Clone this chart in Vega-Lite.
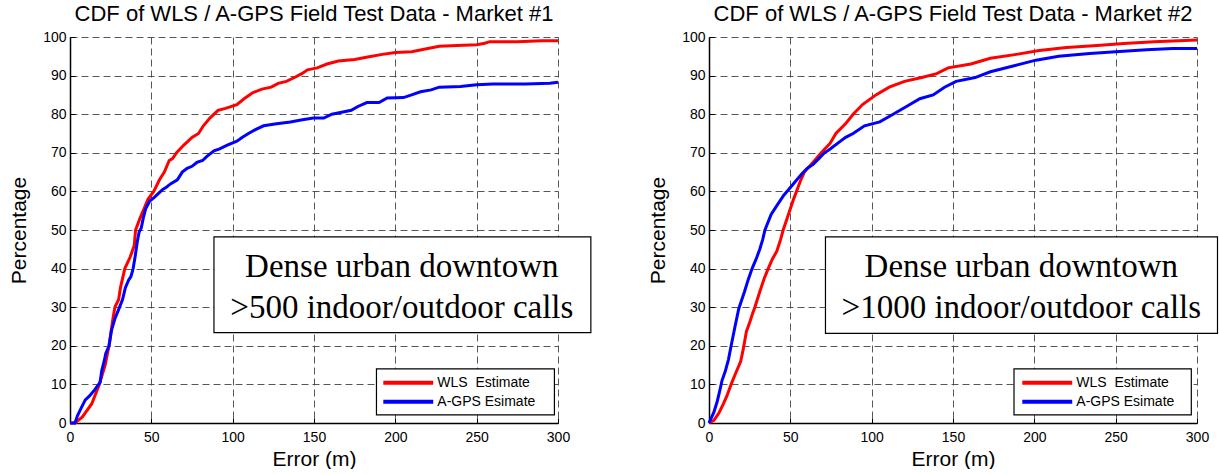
{
  "$schema": "https://vega.github.io/schema/vega-lite/v6.json",
  "background": "white",
  "padding": {"left": 8, "top": 3, "right": 0, "bottom": 0},
  "spacing": 151,
  "bounds": "flush",
  "datasets": {
    "m1": [
      {"err": 0, "pct": 0, "series": "WLS  Estimate"},
      {"err": 3, "pct": 0, "series": "WLS  Estimate"},
      {"err": 7.5, "pct": 1.5, "series": "WLS  Estimate"},
      {"err": 13.4, "pct": 5, "series": "WLS  Estimate"},
      {"err": 18, "pct": 10, "series": "WLS  Estimate"},
      {"err": 21.6, "pct": 15, "series": "WLS  Estimate"},
      {"err": 24, "pct": 20, "series": "WLS  Estimate"},
      {"err": 26.4, "pct": 27, "series": "WLS  Estimate"},
      {"err": 27.6, "pct": 30, "series": "WLS  Estimate"},
      {"err": 29.9, "pct": 32, "series": "WLS  Estimate"},
      {"err": 31, "pct": 35, "series": "WLS  Estimate"},
      {"err": 33.7, "pct": 40, "series": "WLS  Estimate"},
      {"err": 37, "pct": 43, "series": "WLS  Estimate"},
      {"err": 39.5, "pct": 46, "series": "WLS  Estimate"},
      {"err": 40.3, "pct": 50, "series": "WLS  Estimate"},
      {"err": 43, "pct": 53, "series": "WLS  Estimate"},
      {"err": 46, "pct": 56, "series": "WLS  Estimate"},
      {"err": 48, "pct": 58, "series": "WLS  Estimate"},
      {"err": 51.5, "pct": 60, "series": "WLS  Estimate"},
      {"err": 55, "pct": 63, "series": "WLS  Estimate"},
      {"err": 58, "pct": 65, "series": "WLS  Estimate"},
      {"err": 61, "pct": 68, "series": "WLS  Estimate"},
      {"err": 63, "pct": 68.5, "series": "WLS  Estimate"},
      {"err": 65.5, "pct": 70, "series": "WLS  Estimate"},
      {"err": 70, "pct": 72, "series": "WLS  Estimate"},
      {"err": 75, "pct": 74, "series": "WLS  Estimate"},
      {"err": 79, "pct": 75, "series": "WLS  Estimate"},
      {"err": 82, "pct": 77, "series": "WLS  Estimate"},
      {"err": 86, "pct": 79, "series": "WLS  Estimate"},
      {"err": 91, "pct": 81, "series": "WLS  Estimate"},
      {"err": 95.6, "pct": 81.5, "series": "WLS  Estimate"},
      {"err": 102.6, "pct": 82.5, "series": "WLS  Estimate"},
      {"err": 107, "pct": 84, "series": "WLS  Estimate"},
      {"err": 112, "pct": 85.5, "series": "WLS  Estimate"},
      {"err": 118, "pct": 86.5, "series": "WLS  Estimate"},
      {"err": 123.7, "pct": 87, "series": "WLS  Estimate"},
      {"err": 128, "pct": 88, "series": "WLS  Estimate"},
      {"err": 133, "pct": 88.5, "series": "WLS  Estimate"},
      {"err": 138, "pct": 89.5, "series": "WLS  Estimate"},
      {"err": 142.5, "pct": 90.5, "series": "WLS  Estimate"},
      {"err": 146, "pct": 91.5, "series": "WLS  Estimate"},
      {"err": 152, "pct": 92, "series": "WLS  Estimate"},
      {"err": 158, "pct": 93, "series": "WLS  Estimate"},
      {"err": 165, "pct": 93.8, "series": "WLS  Estimate"},
      {"err": 175, "pct": 94.2, "series": "WLS  Estimate"},
      {"err": 183, "pct": 94.8, "series": "WLS  Estimate"},
      {"err": 192, "pct": 95.5, "series": "WLS  Estimate"},
      {"err": 200, "pct": 96, "series": "WLS  Estimate"},
      {"err": 210, "pct": 96.2, "series": "WLS  Estimate"},
      {"err": 220, "pct": 97, "series": "WLS  Estimate"},
      {"err": 227, "pct": 97.6, "series": "WLS  Estimate"},
      {"err": 238, "pct": 97.8, "series": "WLS  Estimate"},
      {"err": 250, "pct": 98, "series": "WLS  Estimate"},
      {"err": 255, "pct": 98.4, "series": "WLS  Estimate"},
      {"err": 258, "pct": 98.8, "series": "WLS  Estimate"},
      {"err": 275, "pct": 98.8, "series": "WLS  Estimate"},
      {"err": 290, "pct": 99, "series": "WLS  Estimate"},
      {"err": 300, "pct": 99, "series": "WLS  Estimate"},
      {"err": 0, "pct": 0, "series": "A-GPS Esimate"},
      {"err": 3, "pct": 0, "series": "A-GPS Esimate"},
      {"err": 4.7, "pct": 2, "series": "A-GPS Esimate"},
      {"err": 7, "pct": 4, "series": "A-GPS Esimate"},
      {"err": 9.4, "pct": 6, "series": "A-GPS Esimate"},
      {"err": 12, "pct": 7, "series": "A-GPS Esimate"},
      {"err": 15, "pct": 8.5, "series": "A-GPS Esimate"},
      {"err": 18.5, "pct": 10.5, "series": "A-GPS Esimate"},
      {"err": 19.5, "pct": 13.5, "series": "A-GPS Esimate"},
      {"err": 21, "pct": 16, "series": "A-GPS Esimate"},
      {"err": 22, "pct": 18, "series": "A-GPS Esimate"},
      {"err": 24, "pct": 20, "series": "A-GPS Esimate"},
      {"err": 25.5, "pct": 24, "series": "A-GPS Esimate"},
      {"err": 27.6, "pct": 27, "series": "A-GPS Esimate"},
      {"err": 30, "pct": 29.5, "series": "A-GPS Esimate"},
      {"err": 32.3, "pct": 32, "series": "A-GPS Esimate"},
      {"err": 34, "pct": 35, "series": "A-GPS Esimate"},
      {"err": 36, "pct": 37, "series": "A-GPS Esimate"},
      {"err": 37.5, "pct": 38, "series": "A-GPS Esimate"},
      {"err": 38.8, "pct": 40, "series": "A-GPS Esimate"},
      {"err": 40, "pct": 43, "series": "A-GPS Esimate"},
      {"err": 41.4, "pct": 47, "series": "A-GPS Esimate"},
      {"err": 42.5, "pct": 49.5, "series": "A-GPS Esimate"},
      {"err": 43.8, "pct": 50.5, "series": "A-GPS Esimate"},
      {"err": 45, "pct": 53, "series": "A-GPS Esimate"},
      {"err": 46.5, "pct": 55.5, "series": "A-GPS Esimate"},
      {"err": 49, "pct": 57.5, "series": "A-GPS Esimate"},
      {"err": 52, "pct": 58.5, "series": "A-GPS Esimate"},
      {"err": 57, "pct": 60.5, "series": "A-GPS Esimate"},
      {"err": 59, "pct": 61, "series": "A-GPS Esimate"},
      {"err": 62, "pct": 62, "series": "A-GPS Esimate"},
      {"err": 66, "pct": 63, "series": "A-GPS Esimate"},
      {"err": 69, "pct": 65, "series": "A-GPS Esimate"},
      {"err": 72, "pct": 66, "series": "A-GPS Esimate"},
      {"err": 75, "pct": 66.5, "series": "A-GPS Esimate"},
      {"err": 78, "pct": 67.5, "series": "A-GPS Esimate"},
      {"err": 81.5, "pct": 68, "series": "A-GPS Esimate"},
      {"err": 84, "pct": 69, "series": "A-GPS Esimate"},
      {"err": 88.5, "pct": 70.5, "series": "A-GPS Esimate"},
      {"err": 92, "pct": 71, "series": "A-GPS Esimate"},
      {"err": 96.7, "pct": 72, "series": "A-GPS Esimate"},
      {"err": 102.6, "pct": 73, "series": "A-GPS Esimate"},
      {"err": 106, "pct": 74, "series": "A-GPS Esimate"},
      {"err": 109.7, "pct": 75, "series": "A-GPS Esimate"},
      {"err": 114, "pct": 76, "series": "A-GPS Esimate"},
      {"err": 119, "pct": 77, "series": "A-GPS Esimate"},
      {"err": 127, "pct": 77.5, "series": "A-GPS Esimate"},
      {"err": 135.5, "pct": 78, "series": "A-GPS Esimate"},
      {"err": 142, "pct": 78.5, "series": "A-GPS Esimate"},
      {"err": 149.6, "pct": 79, "series": "A-GPS Esimate"},
      {"err": 156, "pct": 79, "series": "A-GPS Esimate"},
      {"err": 161, "pct": 80, "series": "A-GPS Esimate"},
      {"err": 167, "pct": 80.5, "series": "A-GPS Esimate"},
      {"err": 172.9, "pct": 81, "series": "A-GPS Esimate"},
      {"err": 177, "pct": 82, "series": "A-GPS Esimate"},
      {"err": 182.5, "pct": 83, "series": "A-GPS Esimate"},
      {"err": 190, "pct": 83, "series": "A-GPS Esimate"},
      {"err": 195, "pct": 84.2, "series": "A-GPS Esimate"},
      {"err": 205, "pct": 84.3, "series": "A-GPS Esimate"},
      {"err": 210, "pct": 85, "series": "A-GPS Esimate"},
      {"err": 215.5, "pct": 85.8, "series": "A-GPS Esimate"},
      {"err": 222, "pct": 86.3, "series": "A-GPS Esimate"},
      {"err": 227, "pct": 87, "series": "A-GPS Esimate"},
      {"err": 240, "pct": 87.2, "series": "A-GPS Esimate"},
      {"err": 250, "pct": 87.6, "series": "A-GPS Esimate"},
      {"err": 260, "pct": 87.8, "series": "A-GPS Esimate"},
      {"err": 280, "pct": 87.8, "series": "A-GPS Esimate"},
      {"err": 295, "pct": 88, "series": "A-GPS Esimate"},
      {"err": 300, "pct": 88.3, "series": "A-GPS Esimate"}
    ],
    "m2": [
      {"err": 0, "pct": 0, "series": "WLS  Estimate"},
      {"err": 3, "pct": 0.7, "series": "WLS  Estimate"},
      {"err": 6, "pct": 2.5, "series": "WLS  Estimate"},
      {"err": 8.9, "pct": 5, "series": "WLS  Estimate"},
      {"err": 11, "pct": 7, "series": "WLS  Estimate"},
      {"err": 13.6, "pct": 10, "series": "WLS  Estimate"},
      {"err": 16, "pct": 12.5, "series": "WLS  Estimate"},
      {"err": 19.5, "pct": 16, "series": "WLS  Estimate"},
      {"err": 21, "pct": 19, "series": "WLS  Estimate"},
      {"err": 23, "pct": 23.7, "series": "WLS  Estimate"},
      {"err": 25, "pct": 26, "series": "WLS  Estimate"},
      {"err": 26.5, "pct": 28, "series": "WLS  Estimate"},
      {"err": 28.2, "pct": 30, "series": "WLS  Estimate"},
      {"err": 31.2, "pct": 34, "series": "WLS  Estimate"},
      {"err": 34, "pct": 37.5, "series": "WLS  Estimate"},
      {"err": 36.4, "pct": 40, "series": "WLS  Estimate"},
      {"err": 39, "pct": 42.5, "series": "WLS  Estimate"},
      {"err": 41.7, "pct": 44.5, "series": "WLS  Estimate"},
      {"err": 44, "pct": 47.5, "series": "WLS  Estimate"},
      {"err": 45.6, "pct": 50, "series": "WLS  Estimate"},
      {"err": 48, "pct": 53, "series": "WLS  Estimate"},
      {"err": 50, "pct": 55.5, "series": "WLS  Estimate"},
      {"err": 52, "pct": 58, "series": "WLS  Estimate"},
      {"err": 53.8, "pct": 60, "series": "WLS  Estimate"},
      {"err": 56, "pct": 62.5, "series": "WLS  Estimate"},
      {"err": 58.6, "pct": 65, "series": "WLS  Estimate"},
      {"err": 62.8, "pct": 67, "series": "WLS  Estimate"},
      {"err": 66, "pct": 68.5, "series": "WLS  Estimate"},
      {"err": 69, "pct": 70, "series": "WLS  Estimate"},
      {"err": 74.5, "pct": 72.5, "series": "WLS  Estimate"},
      {"err": 78, "pct": 75, "series": "WLS  Estimate"},
      {"err": 83.9, "pct": 77.5, "series": "WLS  Estimate"},
      {"err": 88.6, "pct": 80, "series": "WLS  Estimate"},
      {"err": 94.4, "pct": 82.5, "series": "WLS  Estimate"},
      {"err": 102.6, "pct": 85, "series": "WLS  Estimate"},
      {"err": 110.8, "pct": 87, "series": "WLS  Estimate"},
      {"err": 120.2, "pct": 88.5, "series": "WLS  Estimate"},
      {"err": 130.8, "pct": 89.5, "series": "WLS  Estimate"},
      {"err": 140, "pct": 90.5, "series": "WLS  Estimate"},
      {"err": 147, "pct": 92, "series": "WLS  Estimate"},
      {"err": 161, "pct": 93, "series": "WLS  Estimate"},
      {"err": 173, "pct": 94.5, "series": "WLS  Estimate"},
      {"err": 189, "pct": 95.5, "series": "WLS  Estimate"},
      {"err": 203, "pct": 96.5, "series": "WLS  Estimate"},
      {"err": 219.8, "pct": 97.3, "series": "WLS  Estimate"},
      {"err": 238.6, "pct": 97.8, "series": "WLS  Estimate"},
      {"err": 255, "pct": 98.3, "series": "WLS  Estimate"},
      {"err": 273.7, "pct": 98.8, "series": "WLS  Estimate"},
      {"err": 300, "pct": 99.2, "series": "WLS  Estimate"},
      {"err": 0, "pct": 0, "series": "A-GPS Esimate"},
      {"err": 3, "pct": 2.8, "series": "A-GPS Esimate"},
      {"err": 5, "pct": 5.5, "series": "A-GPS Esimate"},
      {"err": 6.6, "pct": 8.3, "series": "A-GPS Esimate"},
      {"err": 8, "pct": 11, "series": "A-GPS Esimate"},
      {"err": 10, "pct": 13.4, "series": "A-GPS Esimate"},
      {"err": 12, "pct": 16.5, "series": "A-GPS Esimate"},
      {"err": 13.6, "pct": 20, "series": "A-GPS Esimate"},
      {"err": 16, "pct": 25, "series": "A-GPS Esimate"},
      {"err": 18.3, "pct": 29.6, "series": "A-GPS Esimate"},
      {"err": 21.8, "pct": 34, "series": "A-GPS Esimate"},
      {"err": 24, "pct": 37, "series": "A-GPS Esimate"},
      {"err": 26.5, "pct": 40, "series": "A-GPS Esimate"},
      {"err": 29, "pct": 42.5, "series": "A-GPS Esimate"},
      {"err": 31.2, "pct": 45, "series": "A-GPS Esimate"},
      {"err": 33, "pct": 47.5, "series": "A-GPS Esimate"},
      {"err": 34.4, "pct": 50, "series": "A-GPS Esimate"},
      {"err": 38.2, "pct": 54, "series": "A-GPS Esimate"},
      {"err": 42, "pct": 56.5, "series": "A-GPS Esimate"},
      {"err": 46, "pct": 59, "series": "A-GPS Esimate"},
      {"err": 49, "pct": 60.5, "series": "A-GPS Esimate"},
      {"err": 54, "pct": 63, "series": "A-GPS Esimate"},
      {"err": 57, "pct": 64.5, "series": "A-GPS Esimate"},
      {"err": 60.5, "pct": 66, "series": "A-GPS Esimate"},
      {"err": 64, "pct": 67, "series": "A-GPS Esimate"},
      {"err": 67.5, "pct": 68.5, "series": "A-GPS Esimate"},
      {"err": 71, "pct": 70, "series": "A-GPS Esimate"},
      {"err": 74.5, "pct": 71, "series": "A-GPS Esimate"},
      {"err": 79.2, "pct": 72.5, "series": "A-GPS Esimate"},
      {"err": 84, "pct": 74, "series": "A-GPS Esimate"},
      {"err": 88.6, "pct": 75, "series": "A-GPS Esimate"},
      {"err": 95.6, "pct": 77, "series": "A-GPS Esimate"},
      {"err": 105, "pct": 78, "series": "A-GPS Esimate"},
      {"err": 113.2, "pct": 80, "series": "A-GPS Esimate"},
      {"err": 121.4, "pct": 82, "series": "A-GPS Esimate"},
      {"err": 129.6, "pct": 84, "series": "A-GPS Esimate"},
      {"err": 137.8, "pct": 85, "series": "A-GPS Esimate"},
      {"err": 144.8, "pct": 87, "series": "A-GPS Esimate"},
      {"err": 151.9, "pct": 88.5, "series": "A-GPS Esimate"},
      {"err": 163.6, "pct": 89.5, "series": "A-GPS Esimate"},
      {"err": 173, "pct": 91, "series": "A-GPS Esimate"},
      {"err": 187, "pct": 92.5, "series": "A-GPS Esimate"},
      {"err": 201, "pct": 94, "series": "A-GPS Esimate"},
      {"err": 215, "pct": 95, "series": "A-GPS Esimate"},
      {"err": 234, "pct": 95.7, "series": "A-GPS Esimate"},
      {"err": 250, "pct": 96.2, "series": "A-GPS Esimate"},
      {"err": 269, "pct": 96.7, "series": "A-GPS Esimate"},
      {"err": 285, "pct": 97, "series": "A-GPS Esimate"},
      {"err": 300, "pct": 97, "series": "A-GPS Esimate"}
    ],
    "boxes": [
      {"panel": 1, "err": 88.5, "err2": 320.2, "pct": 48.2, "pct2": 23.4},
      {"panel": 2, "err": 71.6, "err2": 312.6, "pct": 48.2, "pct2": 23.2}
    ],
    "notes": [
      {"panel": 1, "err": 204, "pct": 40.3, "text": "Dense urban downtown"},
      {"panel": 1, "err": 204, "pct": 29.8, "text": ">500 indoor/outdoor calls"},
      {"panel": 2, "err": 192, "pct": 40.3, "text": "Dense urban downtown"},
      {"panel": 2, "err": 192, "pct": 29.8, "text": ">1000 indoor/outdoor calls"}
    ],
    "legendbox": [
      {"panel": 1, "err": 188.4, "err2": 297.8, "pct": 14, "pct2": 2.1},
      {"panel": 2, "err": 187.5, "err2": 296.5, "pct": 14, "pct2": 2.1}
    ],
    "legendlines": [
      {"series": "WLS  Estimate", "err": 192.6, "err2": 223.3, "pct": 10.4},
      {"series": "A-GPS Esimate", "err": 192.6, "err2": 223.3, "pct": 5.5}
    ],
    "legendlabels": [
      {"label": "WLS\u00a0\u00a0Estimate", "err": 225.8, "pct": 10.4},
      {"label": "A-GPS Esimate", "err": 225.8, "pct": 5.5}
    ]
  },
  "hconcat": [
    {
      "width": 488,
      "height": 386,
      "title": "CDF of WLS / A-GPS Field Test Data - Market #1",
      "encoding": {
        "x": {"field": "err", "type": "quantitative", "scale": {"domain": [0, 300], "nice": false}, "axis": {"title": "Error (m)", "values": [0, 50, 100, 150, 200, 250, 300]}},
        "y": {"field": "pct", "type": "quantitative", "scale": {"domain": [0, 100], "nice": false}, "axis": {"title": "Percentage", "values": [0, 10, 20, 30, 40, 50, 60, 70, 80, 90, 100]}}
      },
      "layer": [
        {
          "data": {"name": "m1"},
          "mark": {"type": "line", "strokeWidth": 3},
          "encoding": {
            "color": {"field": "series", "type": "nominal", "scale": {"domain": ["WLS  Estimate", "A-GPS Esimate"], "range": ["#ff0000", "#0000ff"]}, "legend": null}
          }
        },
        {
          "data": {"name": "boxes"},
          "transform": [{"filter": "datum.panel == 1"}],
          "mark": {"type": "rect", "fill": "white", "stroke": "black", "strokeWidth": 1.2},
          "encoding": {"x2": {"field": "err2"}, "y2": {"field": "pct2"}}
        },
        {
          "data": {"name": "notes"},
          "transform": [{"filter": "datum.panel == 1"}],
          "mark": {"type": "text", "font": "Liberation Serif", "fontSize": 33, "color": "black", "align": "center", "baseline": "middle"},
          "encoding": {"text": {"field": "text"}}
        },
        {
          "data": {"name": "legendbox"},
          "transform": [{"filter": "datum.panel == 1"}],
          "mark": {"type": "rect", "fill": "white", "stroke": "black", "strokeWidth": 1.2},
          "encoding": {"x2": {"field": "err2"}, "y2": {"field": "pct2"}}
        },
        {
          "data": {"name": "legendlines"},
          "mark": {"type": "rule", "strokeWidth": 4},
          "encoding": {"x2": {"field": "err2"}, "color": {"field": "series", "type": "nominal", "legend": null}}
        },
        {
          "data": {"name": "legendlabels"},
          "mark": {"type": "text", "fontSize": 14, "color": "black", "align": "left", "baseline": "middle"},
          "encoding": {"text": {"field": "label"}}
        }
      ]
    },
    {
      "width": 488,
      "height": 386,
      "title": "CDF of WLS / A-GPS Field Test Data - Market #2",
      "encoding": {
        "x": {"field": "err", "type": "quantitative", "scale": {"domain": [0, 300], "nice": false}, "axis": {"title": "Error (m)", "values": [0, 50, 100, 150, 200, 250, 300]}},
        "y": {"field": "pct", "type": "quantitative", "scale": {"domain": [0, 100], "nice": false}, "axis": {"title": "Percentage", "values": [0, 10, 20, 30, 40, 50, 60, 70, 80, 90, 100]}}
      },
      "layer": [
        {
          "data": {"name": "m2"},
          "mark": {"type": "line", "strokeWidth": 3},
          "encoding": {
            "color": {"field": "series", "type": "nominal", "scale": {"domain": ["WLS  Estimate", "A-GPS Esimate"], "range": ["#ff0000", "#0000ff"]}, "legend": null}
          }
        },
        {
          "data": {"name": "boxes"},
          "transform": [{"filter": "datum.panel == 2"}],
          "mark": {"type": "rect", "fill": "white", "stroke": "black", "strokeWidth": 1.2},
          "encoding": {"x2": {"field": "err2"}, "y2": {"field": "pct2"}}
        },
        {
          "data": {"name": "notes"},
          "transform": [{"filter": "datum.panel == 2"}],
          "mark": {"type": "text", "font": "Liberation Serif", "fontSize": 33, "color": "black", "align": "center", "baseline": "middle"},
          "encoding": {"text": {"field": "text"}}
        },
        {
          "data": {"name": "legendbox"},
          "transform": [{"filter": "datum.panel == 2"}],
          "mark": {"type": "rect", "fill": "white", "stroke": "black", "strokeWidth": 1.2},
          "encoding": {"x2": {"field": "err2"}, "y2": {"field": "pct2"}}
        },
        {
          "data": {"name": "legendlines"},
          "mark": {"type": "rule", "strokeWidth": 4},
          "encoding": {"x2": {"field": "err2"}, "color": {"field": "series", "type": "nominal", "legend": null}}
        },
        {
          "data": {"name": "legendlabels"},
          "mark": {"type": "text", "fontSize": 14, "color": "black", "align": "left", "baseline": "middle"},
          "encoding": {"text": {"field": "label"}}
        }
      ]
    }
  ],
  "config": {
    "font": "Liberation Sans",
    "view": {"stroke": null},
    "axis": {
      "labelFont": "Liberation Sans",
      "labelFontSize": 14,
      "labelColor": "black",
      "labelFlush": false,
      "labelOverlap": false,
      "titleFont": "Liberation Sans",
      "titleFontSize": 21,
      "titleFontWeight": "normal",
      "titleColor": "black",
      "domainColor": "black",
      "domainWidth": 1.5,
      "tickColor": "black",
      "tickSize": -5,
      "grid": true,
      "gridColor": "#444444",
      "gridDash": [7, 4],
      "gridOpacity": 1,
      "gridWidth": 0.9
    },
    "axisX": {"titlePadding": 4, "labelPadding": 12},
    "axisY": {"titlePadding": 13, "labelPadding": 9},
    "title": {"font": "Liberation Sans", "fontSize": 22, "fontWeight": "normal", "color": "black", "anchor": "middle", "baseline": "alphabetic", "offset": 4}
  }
}
